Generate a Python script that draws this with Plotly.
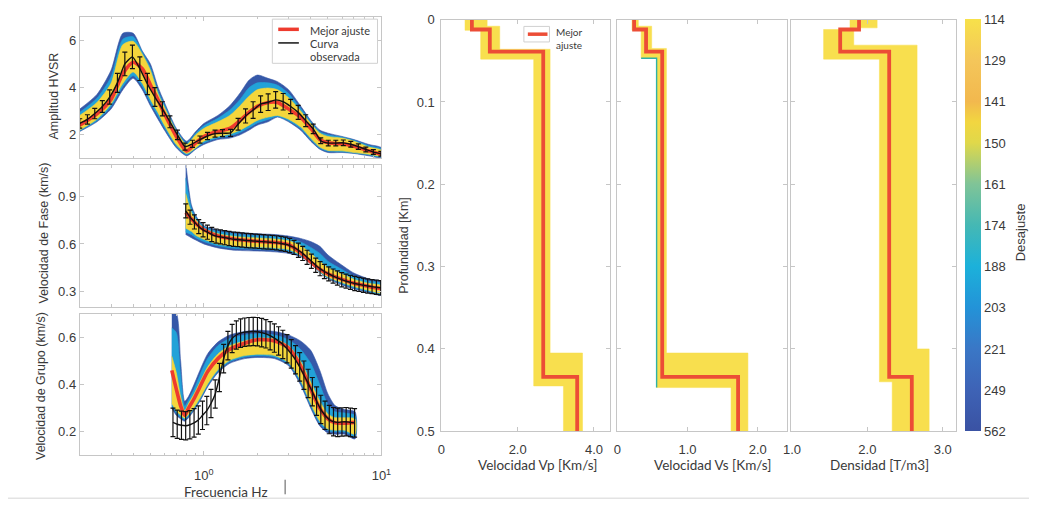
import plotly.graph_objects as go

W, H = 1039, 512


def px(x):
    return x / W


def py(y):
    return 1 - y / H


# ---------------- HVSR amplitude ----------------
hv_freq = [0.200, 0.221, 0.243, 0.268, 0.295, 0.326, 0.359, 0.396, 0.436, 0.481,
           0.530, 0.584, 0.644, 0.710, 0.783, 0.863, 0.951, 1.048, 1.156, 1.274,
           1.414, 1.559, 1.718, 1.894, 2.088, 2.302, 2.537, 2.797, 3.083, 3.399,
           3.747, 4.130, 4.553, 5.019, 5.533, 6.099, 6.723, 7.411, 8.170, 9.006, 9.928]
hv_obs = [2.48, 2.65, 2.90, 3.20, 3.60, 4.20, 5.00, 5.30, 4.80, 4.15,
          3.60, 3.10, 2.55, 2.00, 1.50, 1.62, 1.80, 1.95, 2.05, 2.07,
          2.08, 2.45, 2.80, 3.05, 3.30, 3.38, 3.48, 3.40, 3.20, 2.95,
          2.60, 2.25, 1.75, 1.65, 1.65, 1.66, 1.60, 1.50, 1.38, 1.27, 1.20]
hv_err = [0.20, 0.20, 0.22, 0.25, 0.30, 0.40, 0.50, 0.50, 0.50, 0.45,
          0.40, 0.30, 0.25, 0.20, 0.15, 0.15, 0.15, 0.15, 0.15, 0.15,
          0.15, 0.25, 0.30, 0.35, 0.35, 0.35, 0.35, 0.35, 0.30, 0.30,
          0.25, 0.20, 0.12, 0.12, 0.12, 0.12, 0.12, 0.12, 0.10, 0.10, 0.10]

hv_env_f = [0.2, 0.25, 0.3, 0.35, 0.4, 0.45, 0.5, 0.55, 0.6, 0.7, 0.8, 0.9, 1.0, 1.2,
            1.4, 1.6, 1.8, 2.0, 2.3, 2.6, 3.0, 3.5, 4.0, 4.5, 5.0, 6.0, 7.0, 8.5, 10]
hv_best = [2.41, 2.89, 3.50, 4.59, 5.07, 4.80, 4.12, 3.50, 2.89, 1.93, 1.32, 1.66, 1.93, 2.14,
           2.27, 2.61, 2.96, 3.20, 3.37, 3.37, 3.09, 2.75, 2.27, 1.80, 1.66, 1.62, 1.52, 1.32, 1.18]
hv_out_hi = [3.09, 3.71, 4.73, 6.30, 6.30, 5.55, 5.00, 4.05, 3.37, 2.27, 1.73, 2.14, 2.48, 2.82,
             3.23, 3.77, 4.32, 4.53, 4.39, 4.25, 3.91, 3.23, 2.61, 2.20, 2.07, 1.93, 1.80, 1.59, 1.45]
hv_out_lo = [2.14, 2.55, 3.09, 3.91, 4.39, 3.91, 3.23, 2.68, 2.20, 1.45, 1.11, 1.39, 1.59, 1.80,
             1.86, 2.00, 2.20, 2.41, 2.55, 2.75, 2.55, 2.20, 1.73, 1.39, 1.25, 1.25, 1.21, 1.11, 1.04]
hv_mid_hi = [2.95, 3.55, 4.45, 6.05, 6.15, 5.50, 4.85, 3.90, 3.27, 2.20, 1.66, 2.07, 2.38, 2.70,
             3.05, 3.50, 4.00, 4.20, 4.20, 4.10, 3.75, 3.13, 2.55, 2.13, 2.00, 1.90, 1.77, 1.54, 1.40]
hv_mid_lo = [2.17, 2.60, 3.20, 4.05, 4.50, 4.05, 3.36, 2.82, 2.30, 1.52, 1.16, 1.42, 1.66, 1.87,
             1.95, 2.10, 2.30, 2.50, 2.65, 2.78, 2.60, 2.27, 1.80, 1.43, 1.30, 1.28, 1.23, 1.15, 1.07]
hv_in_hi = [2.82, 3.37, 4.18, 5.82, 5.96, 5.41, 4.73, 3.77, 3.16, 2.14, 1.59, 2.00, 2.27, 2.55,
            2.82, 3.23, 3.64, 3.91, 3.98, 3.91, 3.57, 3.02, 2.48, 2.07, 1.93, 1.86, 1.73, 1.48, 1.34]
hv_in_lo = [2.20, 2.66, 3.30, 4.18, 4.66, 4.18, 3.50, 2.96, 2.41, 1.59, 1.21, 1.45, 1.73, 1.93,
            2.03, 2.20, 2.41, 2.61, 2.75, 2.82, 2.66, 2.34, 1.86, 1.48, 1.34, 1.32, 1.25, 1.18, 1.11]

# ---------------- Phase velocity ----------------
ph_freq = [0.791, 0.836, 0.885, 0.936, 0.990, 1.047, 1.108, 1.172, 1.240, 1.311,
           1.387, 1.467, 1.551, 1.641, 1.736, 1.837, 1.943, 2.055, 2.174, 2.299,
           2.432, 2.573, 2.721, 2.879, 3.045, 3.221, 3.407, 3.604, 3.813, 4.033,
           4.266, 4.513, 4.774, 5.050, 5.342, 5.649, 5.977, 6.322, 6.688, 7.074,
           7.482, 7.914, 8.373, 8.855, 9.367, 9.908]
ph_obs = [0.810, 0.770, 0.740, 0.710, 0.690, 0.675, 0.660, 0.650, 0.645, 0.640,
          0.635, 0.630, 0.628, 0.625, 0.622, 0.620, 0.618, 0.616, 0.614, 0.612,
          0.610, 0.607, 0.603, 0.598, 0.590, 0.578, 0.560, 0.540, 0.515, 0.490,
          0.465, 0.443, 0.425, 0.410, 0.396, 0.384, 0.373, 0.364, 0.356, 0.349,
          0.343, 0.338, 0.333, 0.329, 0.325, 0.322]
ph_err = 0.045

ph_env_f = [0.79, 0.85, 0.9, 1.0, 1.2, 1.5, 2.0, 2.5, 3.0, 3.5, 4.0, 4.5, 5.0, 6.0, 7.0, 8.5, 10]
ph_best = [0.800, 0.760, 0.730, 0.690, 0.650, 0.630, 0.617, 0.610, 0.595, 0.545, 0.485, 0.440,
           0.410, 0.375, 0.350, 0.330, 0.315]
ph_out_hi = [1.120, 0.850, 0.780, 0.715, 0.690, 0.675, 0.665, 0.660, 0.650, 0.635, 0.615, 0.585,
             0.530, 0.465, 0.415, 0.378, 0.360]
ph_out_lo = [0.660, 0.640, 0.625, 0.600, 0.575, 0.560, 0.555, 0.550, 0.540, 0.520, 0.475, 0.420,
             0.380, 0.340, 0.315, 0.290, 0.275]
ph_mid_hi = [1.020, 0.830, 0.770, 0.710, 0.680, 0.663, 0.652, 0.647, 0.636, 0.613, 0.578, 0.540,
             0.490, 0.438, 0.395, 0.364, 0.348]
ph_mid_lo = [0.675, 0.660, 0.640, 0.615, 0.588, 0.572, 0.567, 0.562, 0.553, 0.525, 0.478, 0.422,
             0.385, 0.348, 0.322, 0.298, 0.283]
ph_in_hi = [0.920, 0.800, 0.755, 0.700, 0.665, 0.648, 0.638, 0.632, 0.620, 0.590, 0.540, 0.490,
            0.450, 0.410, 0.375, 0.350, 0.335]
ph_in_lo = [0.700, 0.680, 0.655, 0.630, 0.600, 0.585, 0.580, 0.575, 0.565, 0.530, 0.480, 0.425,
            0.390, 0.355, 0.330, 0.305, 0.290]

# ---------------- Group velocity ----------------
gr_freq = [0.670, 0.708, 0.748, 0.790, 0.834, 0.881, 0.931, 0.983, 1.039, 1.097,
           1.159, 1.224, 1.293, 1.366, 1.443, 1.524, 1.610, 1.700, 1.796, 1.897,
           2.004, 2.117, 2.236, 2.362, 2.495, 2.635, 2.784, 2.940, 3.106, 3.281,
           3.465, 3.660, 3.866, 4.084, 4.314, 4.557, 4.813, 5.084, 5.371, 5.673,
           5.993, 6.330, 6.687, 7.063]
gr_obs = [0.240, 0.232, 0.228, 0.226, 0.230, 0.238, 0.250, 0.270, 0.290, 0.320,
          0.360, 0.430, 0.510, 0.565, 0.595, 0.610, 0.618, 0.622, 0.624, 0.625,
          0.624, 0.620, 0.615, 0.607, 0.597, 0.585, 0.570, 0.552, 0.530, 0.505,
          0.475, 0.440, 0.405, 0.370, 0.330, 0.295, 0.270, 0.252, 0.243, 0.240,
          0.242, 0.243, 0.240, 0.238]
gr_err = 0.06

gr_env_f = [0.66, 0.7, 0.74, 0.78, 0.82, 0.88, 0.95, 1.05, 1.2, 1.4, 1.7, 2.0, 2.5, 3.0,
            3.5, 4.0, 4.5, 5.0, 5.5, 6.2, 7.1]
gr_best = [0.460, 0.380, 0.310, 0.270, 0.300, 0.340, 0.390, 0.455, 0.510, 0.550, 0.575, 0.590,
           0.585, 0.555, 0.480, 0.380, 0.300, 0.255, 0.238, 0.237, 0.240]
gr_out_hi = [0.700, 0.700, 0.500, 0.330, 0.350, 0.400, 0.460, 0.530, 0.580, 0.610, 0.625, 0.630,
             0.625, 0.610, 0.585, 0.545, 0.460, 0.360, 0.310, 0.295, 0.285]
gr_out_lo = [0.300, 0.270, 0.255, 0.245, 0.260, 0.290, 0.330, 0.390, 0.450, 0.490, 0.510, 0.515,
             0.510, 0.480, 0.400, 0.300, 0.225, 0.195, 0.190, 0.190, 0.170]
gr_mid_hi = [0.640, 0.620, 0.440, 0.310, 0.335, 0.380, 0.440, 0.510, 0.565, 0.595, 0.610, 0.615,
             0.610, 0.590, 0.550, 0.490, 0.400, 0.315, 0.285, 0.280, 0.270]
gr_mid_lo = [0.310, 0.280, 0.262, 0.252, 0.267, 0.297, 0.337, 0.397, 0.457, 0.497, 0.517, 0.522,
             0.517, 0.487, 0.410, 0.310, 0.235, 0.205, 0.200, 0.200, 0.180]
gr_in_hi = [0.520, 0.450, 0.350, 0.290, 0.320, 0.360, 0.410, 0.475, 0.530, 0.565, 0.585, 0.597,
            0.593, 0.565, 0.500, 0.410, 0.330, 0.275, 0.260, 0.260, 0.255]
gr_in_lo = [0.320, 0.290, 0.270, 0.258, 0.273, 0.303, 0.343, 0.403, 0.463, 0.503, 0.523, 0.528,
            0.523, 0.493, 0.420, 0.320, 0.245, 0.212, 0.207, 0.207, 0.190]

# ---------------- Layered models (depth in km) ----------------
max_depth = 0.5
best_tops = [0.0, 0.012, 0.039, 0.434]
vp_best = [0.80, 1.27, 2.67, 3.56]
vs_best = [0.24, 0.41, 0.64, 1.72]
rho_best = [1.89, 1.64, 2.29, 2.59]

vp_min_tops, vp_min = [0.0, 0.013, 0.048, 0.445], [0.62, 1.03, 2.42, 3.20]
vp_max_tops, vp_max = [0.0, 0.008, 0.036, 0.405], [1.20, 1.53, 2.85, 3.70]
vs_min_tops, vs_min = [0.0, 0.013, 0.047, 0.447], [0.21, 0.34, 0.56, 1.62]
vs_max_tops, vs_max = [0.0, 0.008, 0.035, 0.405], [0.30, 0.49, 0.70, 1.86]
rho_min_tops, rho_min = [0.0, 0.012, 0.048, 0.440], [1.77, 1.42, 2.16, 2.33]
rho_max_tops, rho_max = [0.0, 0.010, 0.031, 0.400], [2.13, 1.82, 2.66, 2.82]

# misfit colour scale labels, top to bottom
misfit_ticks = [114, 129, 141, 150, 161, 174, 188, 203, 221, 249, 562]

# ---------------- styling ----------------
C_OUT, C_MID, C_IN = '#3558a8', '#22a2d8', '#f4d63c'
C_RED = '#ee3b2e'
C_RED_PROF = '#ec4d36'
C_YEL = '#f8df4e'
C_TEAL = '#2fb2a6'
AX_LINE = '#c6c6c6'
TICK_FONT = dict(family='Liberation Sans, Arial, sans-serif', size=13, color='#3a3a3a')
LABEL_FONT = dict(family='Liberation Sans, Arial, sans-serif', size=12.5, color='#3a3a3a')
CAL_FONT = dict(family='Lato, Open Sans, sans-serif', size=13.5, color='#3a3a3a')

PARULA = [[0.0, '#3a52a3'], [0.1, '#3e63b6'], [0.2, '#3a77c6'], [0.3, '#2393d8'],
          [0.4, '#1cb1da'], [0.5, '#45b8b4'], [0.6, '#80c497'], [0.7, '#e0d84a'],
          [0.75, '#f2d640'], [0.8, '#f2b84e'], [0.9, '#f4c65a'], [1.0, '#f7e14a']]

fig = go.Figure()


def add_band(f, lo, hi, color, ax):
    fig.add_trace(go.Scatter(
        x=list(f) + list(f)[::-1], y=list(hi) + list(lo)[::-1],
        mode='lines', fill='toself', fillcolor=color,
        line=dict(width=0.6, color=color, shape='spline', smoothing=0.7),
        xaxis='x' + ax, yaxis='y' + ax, hoverinfo='skip', showlegend=False))


def add_curve_panel(ax, env_f, bands, best, freq, obs, err):
    for lo, hi, col in bands:
        add_band(env_f, lo, hi, col, ax)
    fig.add_trace(go.Scatter(
        x=env_f, y=best, mode='lines',
        line=dict(color=C_RED, width=3.6, shape='spline', smoothing=0.7),
        xaxis='x' + ax, yaxis='y' + ax, hoverinfo='skip', showlegend=False))
    if isinstance(err, (int, float)):
        ey = dict(type='constant', value=err, color='#111111', thickness=1.2, width=2.5)
    else:
        ey = dict(type='data', array=err, color='#111111', thickness=1.2, width=2.5)
    fig.add_trace(go.Scatter(
        x=freq, y=obs, mode='lines', error_y=ey,
        line=dict(color='#111111', width=1.4, shape='spline', smoothing=0.5),
        xaxis='x' + ax, yaxis='y' + ax, hoverinfo='skip', showlegend=False))


add_curve_panel('', hv_env_f,
                [(hv_out_lo, hv_out_hi, C_OUT), (hv_mid_lo, hv_mid_hi, C_MID), (hv_in_lo, hv_in_hi, C_IN)],
                hv_best, hv_freq, hv_obs, hv_err)
add_curve_panel('2', ph_env_f,
                [(ph_out_lo, ph_out_hi, C_OUT), (ph_mid_lo, ph_mid_hi, C_MID), (ph_in_lo, ph_in_hi, C_IN)],
                ph_best, ph_freq, ph_obs, ph_err)
add_curve_panel('3', gr_env_f,
                [(gr_out_lo, gr_out_hi, C_OUT), (gr_mid_lo, gr_mid_hi, C_MID), (gr_in_lo, gr_in_hi, C_IN)],
                gr_best, gr_freq, gr_obs, gr_err)


def steps(tops, vals):
    edges = list(tops) + [max_depth]
    xs, ys = [], []
    for i, v in enumerate(vals):
        xs += [v, v]
        ys += [edges[i], edges[i + 1]]
    return xs, ys


def add_profile_panel(ax, mn_tops, mn, mx_tops, mx, best, teal_min=False):
    x1, y1 = steps(mn_tops, mn)
    x2, y2 = steps(mx_tops, mx)
    fig.add_trace(go.Scatter(
        x=x1 + x2[::-1], y=y1 + y2[::-1], mode='lines', fill='toself',
        fillcolor=C_YEL, line=dict(width=0.5, color=C_YEL),
        xaxis='x' + ax, yaxis='y' + ax, hoverinfo='skip', showlegend=False))
    if teal_min:
        # edge of the slowest models in the half-space above the deep interface
        fig.add_trace(go.Scatter(
            x=x1[3:6], y=y1[3:6], mode='lines', line=dict(width=1.4, color=C_TEAL),
            xaxis='x' + ax, yaxis='y' + ax, hoverinfo='skip', showlegend=False))
    xb, yb = steps(best_tops, best)
    fig.add_trace(go.Scatter(
        x=xb, y=yb, mode='lines', line=dict(width=3.8, color=C_RED_PROF),
        xaxis='x' + ax, yaxis='y' + ax, hoverinfo='skip', showlegend=False))


add_profile_panel('4', vp_min_tops, vp_min, vp_max_tops, vp_max, vp_best)
add_profile_panel('5', vs_min_tops, vs_min, vs_max_tops, vs_max, vs_best, teal_min=True)
add_profile_panel('6', rho_min_tops, rho_min, rho_max_tops, rho_max, rho_best)

# colour bar of misfit
n_levels = len(misfit_ticks)
fig.add_trace(go.Scatter(
    x=[None], y=[None], mode='markers', xaxis='x6', yaxis='y6', hoverinfo='skip', showlegend=False,
    marker=dict(color=[0], cmin=0, cmax=n_levels - 1, colorscale=PARULA, showscale=True,
                colorbar=dict(x=px(974), xanchor='left', y=py(225), yanchor='middle',
                              len=424 / H, lenmode='fraction', thickness=16, thicknessmode='pixels',
                              outlinewidth=0, ticks='', xpad=0, ypad=0,
                              tickvals=list(range(n_levels)),
                              ticktext=[str(v) for v in misfit_ticks[::-1]],
                              tickfont=TICK_FONT))))

# ---------------- axes ----------------
base = dict(showline=True, linecolor=AX_LINE, linewidth=1, mirror='ticks', ticks='inside',
            ticklen=4, tickcolor=AX_LINE, showgrid=False, zeroline=False, tickfont=TICK_FONT)

left_x = [px(73), px(380)]
logx = dict(base, type='log', range=[-0.69897, 1.0], domain=left_x,
            tickvals=[1, 10], ticktext=['10<sup>0</sup>', '10<sup>1</sup>'],
            minor=dict(ticks='inside', ticklen=2.5, tickcolor=AX_LINE, dtick='D1'))

layout_axes = dict(
    xaxis=dict(logx, anchor='y', showticklabels=False),
    yaxis=dict(base, anchor='x', domain=[py(156), py(10)], range=[1, 7], tickvals=[2, 4, 6]),
    xaxis2=dict(logx, anchor='y2', showticklabels=False),
    yaxis2=dict(base, anchor='x2', domain=[py(309), py(163)], range=[0.2, 1.1],
                tickvals=[0.3, 0.6, 0.9], ticktext=['0.3', '0.6', '0.9']),
    xaxis3=dict(logx, anchor='y3', ticklabelstandoff=8),
    yaxis3=dict(base, anchor='x3', domain=[py(462), py(316)], range=[0.1, 0.7],
                tickvals=[0.2, 0.4, 0.6], ticktext=['0.2', '0.4', '0.6']),
)

depth_ticks = [0, 0.1, 0.2, 0.3, 0.4, 0.5]
depth_y = dict(base, range=[max_depth, 0], domain=[py(437), py(13)], tickvals=depth_ticks)
layout_axes.update(
    xaxis4=dict(base, anchor='y4', domain=[px(441), px(613)], range=[0, 4.43],
                tickvals=[0, 2, 4], ticktext=['0', '2.0', '4.0'], ticklabelstandoff=6),
    yaxis4=dict(depth_y, anchor='x4', ticktext=['0', '0.1', '0.2', '0.3', '0.4', '0.5'],
                ticklabelstandoff=3),
    xaxis5=dict(base, anchor='y5', domain=[px(620), px(793)], range=[0, 2.42],
                tickvals=[0, 1, 2], ticktext=['0', '1.0', '2.0'], ticklabelstandoff=6),
    yaxis5=dict(depth_y, anchor='x5', showticklabels=False),
    xaxis6=dict(base, anchor='y6', domain=[px(797), px(965)], range=[0.99, 3.18],
                tickvals=[1, 2, 3], ticktext=['1.0', '2.0', '3.0'], ticklabelstandoff=6),
    yaxis6=dict(depth_y, anchor='x6', showticklabels=False),
)

# ---------------- titles and legends ----------------
ann = []


def text(x, y, s, font, angle=0, xanchor='center'):
    ann.append(dict(x=px(x), y=py(y), xref='paper', yref='paper', text=s, showarrow=False,
                    font=font, textangle=angle, xanchor=xanchor, yanchor='middle'))


text(47, 92, 'Amplitud HVSR', LABEL_FONT, -90)
text(37, 233, 'Velocidad de Fase (km/s)', LABEL_FONT, -90)
text(33, 390, 'Velocidad de Grupo (km/s)', LABEL_FONT, -90)
text(222, 500, 'Frecuencia Hz', CAL_FONT)
text(403, 246, 'Profundidad [Km]', LABEL_FONT, -90)
text(539, 472, 'Velocidad Vp [Km/s]', CAL_FONT)
text(717, 472, 'Velocidad Vs [Km/s]', CAL_FONT)
text(887, 472, 'Densidad [T/m3]', CAL_FONT)
text(1030, 232, 'Desajuste', dict(LABEL_FONT, size=13), -90)

LEG_FONT = dict(family='Lato, Open Sans, sans-serif', size=11, color='#3a3a3a')
text(305, 24, 'Mejor ajuste', LEG_FONT, xanchor='left')
text(305, 37.5, 'Curva', LEG_FONT, xanchor='left')
text(305, 51, 'observada', LEG_FONT, xanchor='left')
text(556, 26, 'Mejor', dict(LEG_FONT, size=10), xanchor='left')
text(556, 39, 'ajuste', dict(LEG_FONT, size=10), xanchor='left')

shapes = [
    dict(type='rect', xref='paper', yref='paper', x0=px(269), x1=px(376), y0=py(58), y1=py(12.5),
         line=dict(color='#d0d0d0', width=1), fillcolor='white', layer='above'),
    dict(type='line', xref='paper', yref='paper', x0=px(275), x1=px(296), y0=py(23), y1=py(23),
         line=dict(color=C_RED, width=3.5)),
    dict(type='line', xref='paper', yref='paper', x0=px(275), x1=px(296), y0=py(37), y1=py(37),
         line=dict(color='#222222', width=1.6)),
    dict(type='rect', xref='paper', yref='paper', x0=px(525), x1=px(551), y0=py(36), y1=py(20),
         line=dict(color='#d0d0d0', width=1), fillcolor='white', layer='above'),
    dict(type='line', xref='paper', yref='paper', x0=px(529), x1=px(549), y0=py(28), y1=py(28),
         line=dict(color=C_RED_PROF, width=3.5)),
    dict(type='line', xref='paper', yref='paper', x0=0, x1=1, y0=py(506), y1=py(506),
         line=dict(color='#e3e3e3', width=1.5)),
    dict(type='line', xref='paper', yref='paper', x0=px(282), x1=px(282), y0=py(502), y1=py(487),
         line=dict(color='#555555', width=1)),
]

fig.update_layout(
    width=W, height=H, autosize=False,
    margin=dict(l=0, r=0, t=0, b=0),
    paper_bgcolor='white', plot_bgcolor='white',
    showlegend=False, annotations=ann, shapes=shapes,
    **layout_axes)

fig.write_html('out.html')
